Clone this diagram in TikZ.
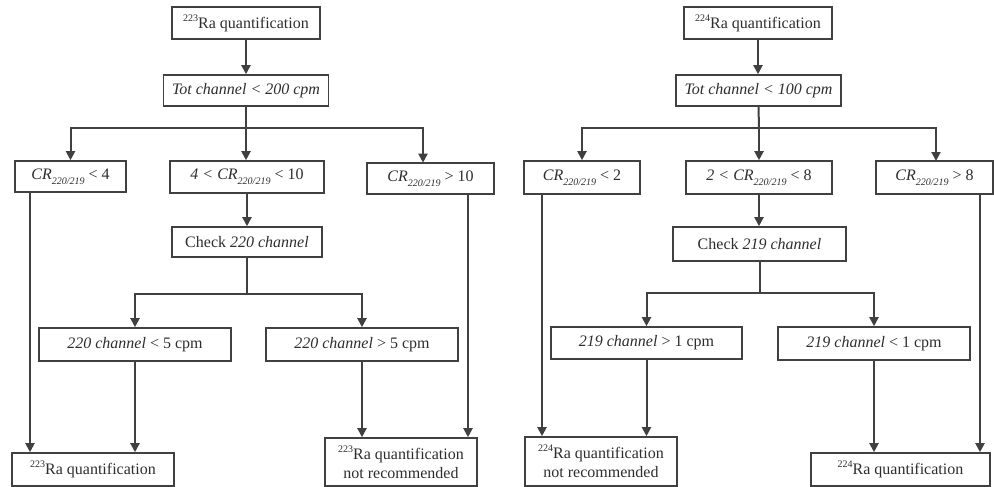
\documentclass[tikz,border=0pt]{standalone}
\usepackage{fontspec}
\setmainfont{Liberation Serif}
\usetikzlibrary{arrows.meta,calc}
\definecolor{lncol}{RGB}{64,64,64}
\definecolor{txcol}{RGB}{45,45,45}
\newcommand{\myiso}[1]{\raisebox{0.45em}{\fontsize{10}{10}\selectfont #1}}
\newcommand{\myCR}{\textit{CR}\raisebox{-0.3em}{\fontsize{10}{10}\selectfont\textit{220/219}}}
\tikzset{
  box/.style={draw=lncol, line width=1.6pt, inner sep=0pt, text=txcol,
              font=\fontsize{16}{19}\selectfont, align=center},
  conn/.style={draw=lncol, line width=2pt},
  arr/.style={conn, -{Triangle[length=9pt,width=9pt]}}
}
\begin{document}
\begin{tikzpicture}[x=1pt,y=-1pt]
\useasboundingbox (0,0) rectangle (994,487);
% ---------------- left tree ----------------
\node[box, minimum width=148pt, minimum height=32pt] (A1) at (246,23) {\myiso{223}Ra quantification};
\node[box, minimum width=165pt, minimum height=31pt] (A2) at (246,90.5) {\textit{Tot channel < 200 cpm}};
\node[box, minimum width=111pt, minimum height=31pt] (A3) at (70.5,176.5) {\myCR{} < 4};
\node[box, minimum width=154pt, minimum height=32pt] (A4) at (247,177) {\textit{4 <} \myCR{} < 10};
\node[box, minimum width=127pt, minimum height=31pt] (A5) at (430.5,178.5) {\myCR{} > 10};
\node[box, minimum width=150pt, minimum height=30pt] (A6) at (247,242) {Check \textit{220 channel}};
\node[box, minimum width=192pt, minimum height=33pt] (A7) at (135,344.5) {\textit{220 channel} < 5 cpm};
\node[box, minimum width=192pt, minimum height=33pt] (A8) at (362,344.5) {\textit{220 channel} > 5 cpm};
\node[box, minimum width=162pt, minimum height=33pt] (A9) at (93,469.5) {\myiso{223}Ra quantification};
\node[box, minimum width=152pt, minimum height=48pt] (A10) at (401,462) {\myiso{223}Ra quantification\\not recommended};

\draw[arr] (A1.south) -- (A1.south |- A2.north);
\coordinate (ja) at (246,128);
\draw[conn] (A2.south) -- (ja);
\draw[arr] (ja) -| (A3.north);
\draw[arr] (ja) -- (ja |- A4.north);
\coordinate (A5n) at (423,162.7);
\draw[arr] (ja) -| (A5n);
\draw[arr] (A4.south) -- (A4.south |- A6.north);
\coordinate (jb) at (247,294);
\draw[conn] (A6.south) -- (jb);
\draw[arr] (jb) -| (A7.north);
\draw[arr] (jb) -| (A8.north);
\coordinate (A3s) at (30,192);
\draw[arr] (A3s) -- (A3s |- A9.north);
\draw[arr] (A7.south) -- (A7.south |- A9.north);
\draw[arr] (A8.south) -- (A8.south |- A10.north);
\coordinate (A5s) at (468,194);
\draw[arr] (A5s) -- (A5s |- A10.north);

% ---------------- right tree ----------------
\node[box, minimum width=148pt, minimum height=32pt] (B1) at (758,23) {\myiso{224}Ra quantification};
\node[box, minimum width=165pt, minimum height=31pt] (B2) at (758.5,90.5) {\textit{Tot channel < 100 cpm}};
\node[box, minimum width=116pt, minimum height=33pt] (B3) at (582,177.5) {\myCR{} < 2};
\node[box, minimum width=146pt, minimum height=33pt] (B4) at (759,177.5) {\textit{2 <} \myCR{} < 8};
\node[box, minimum width=117pt, minimum height=33pt] (B5) at (934.5,177.5) {\myCR{} > 8};
\node[box, minimum width=173pt, minimum height=34pt] (B6) at (759.5,244) {Check \textit{219 channel}};
\node[box, minimum width=191pt, minimum height=32pt] (B7) at (646.5,343) {\textit{219 channel} > 1 cpm};
\node[box, minimum width=192pt, minimum height=33pt] (B8) at (874,343.5) {\textit{219 channel} < 1 cpm};
\node[box, minimum width=152pt, minimum height=49pt] (B9) at (601,461.5) {\myiso{224}Ra quantification\\not recommended};
\node[box, minimum width=179pt, minimum height=33pt] (B10) at (900.5,469.5) {\myiso{224}Ra quantification};

\draw[arr] (B1.south) -- (B1.south |- B2.north);
\coordinate (jc) at (759,128);
\draw[conn] (B2.south) -- (jc);
\draw[arr] (jc) -| (B3.north);
\draw[arr] (jc) -- (jc |- B4.north);
\coordinate (B5n) at (936,161);
\draw[arr] (jc) -| (B5n);
\draw[arr] (B4.south) -- (B4.south |- B6.north);
\coordinate (jd) at (759.5,293);
\draw[conn] (B6.south) -- (jd);
\draw[arr] (jd) -| (B7.north);
\draw[arr] (jd) -| (B8.north);
\coordinate (B3s) at (542,194);
\draw[arr] (B3s) -- (B3s |- B9.north);
\draw[arr] (B7.south) -- (B7.south |- B9.north);
\draw[arr] (B8.south) -- (B8.south |- B10.north);
\coordinate (B5s) at (980,194);
\draw[arr] (B5s) -- (B5s |- B10.north);
\end{tikzpicture}
\end{document}
